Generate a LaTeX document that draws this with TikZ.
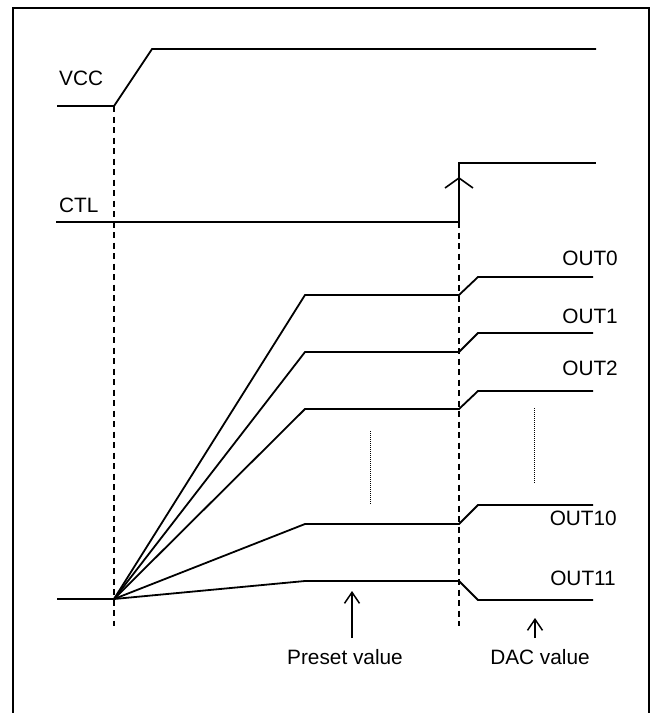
\documentclass[tikz,border=0pt]{standalone}
\usepackage{fontspec}
\setmainfont{Liberation Sans}
\usetikzlibrary{arrows.meta}
\begin{document}
\begin{tikzpicture}[x=1pt,y=-1pt,
  sig/.style={line width=1.8pt, line join=miter},
  guide/.style={line width=1.4pt, dash pattern=on 6pt off 4.5pt},
  dotline/.style={line width=1pt, dash pattern=on 1pt off 1pt},
  lbl/.style={inner sep=0pt, font=\fontsize{20.8}{24}\selectfont},
  frame/.style={line width=2.2pt},
  bigbarb/.style={-{Straight Barb[length=10pt,width=28pt,line width=1.6pt]}},
  smallbarb/.style={-{Straight Barb[length=11pt,width=15pt,line width=1.5pt]}}]
\useasboundingbox (0,0) rectangle (654,713);
\clip (0,0) rectangle (654,713);
% frame
\draw[frame] (13,720) -- (13,8) -- (649,8) -- (649,720);

% VCC
\coordinate (v0) at (57,106);
\coordinate (v1) at (114,106);
\coordinate (v2) at (152,49);
\coordinate (v3) at (596,49);
\draw[sig] (v0) -- (v1) -- (v2) -- (v3);
\node[lbl, anchor=base west] (vcc) at (59,85) {VCC};

% CTL
\coordinate (c0) at (56,222);
\coordinate (c1) at (459,222);
\coordinate (c2) at (459,163);
\coordinate (c3) at (596,163);
\draw[sig] (c0) -- (c1) -- (c2) -- (c3);
\coordinate (cArrS) at (459,200);
\coordinate (cArrT) at (459,177);
\draw[bigbarb, line width=1.8pt] (cArrS) -- (cArrT);
\node[lbl, anchor=base west] (ctl) at (59,212) {CTL};

% guides
\coordinate (g1e) at (114,626);
\coordinate (g2e) at (459,626);
\draw[guide] (v1) -- (g1e);
\draw[guide] (c1) -- (g2e);

% outputs
\coordinate (oin) at (57,599);
\coordinate (o) at (114,599);
\draw[sig] (oin) -- (o);
\foreach \nm/\y/\z in {a/295/277, b/352/333, c/409/391, d/524/505, e/581/600}{
  \coordinate (k\nm) at (305,\y);
  \coordinate (s\nm) at (459,\y);
  \coordinate (r\nm) at (478,\z);
  \coordinate (t\nm) at (593,\z);
  \draw[sig] (o) -- (k\nm) -- (s\nm) -- (r\nm) -- (t\nm);
}
\node[lbl, anchor=base east] (out0) at (618,265.5) {OUT0};
\node[lbl, anchor=base east] (out1) at (618,323.5) {OUT1};
\node[lbl, anchor=base east] (out2) at (618,375.5) {OUT2};
\node[lbl, anchor=base east] (out10) at (617,525.5) {OUT10};
\node[lbl, anchor=base east] (out11) at (616,585.5) {OUT11};

% ellipsis dotted lines
\coordinate (p1) at (370,431);
\coordinate (p2) at (370,505);
\coordinate (q1) at (534,408);
\coordinate (q2) at (534,483);
\draw[dotline] (p1) -- (p2);
\draw[dotline] (q1) -- (q2);

% annotation arrows
\node[lbl, anchor=base] (preset) at (345,664) {Preset value};
\node[lbl, anchor=base] (dac) at (540,664) {DAC value};
\coordinate (pa0) at (352,638);
\coordinate (pa1) at (352,591);
\coordinate (da0) at (535,638);
\coordinate (da1) at (535,618);
\draw[smallbarb, line width=1.5pt] (pa0) -- (pa1);
\draw[smallbarb, line width=1.5pt] (da0) -- (da1);
\end{tikzpicture}
\end{document}
